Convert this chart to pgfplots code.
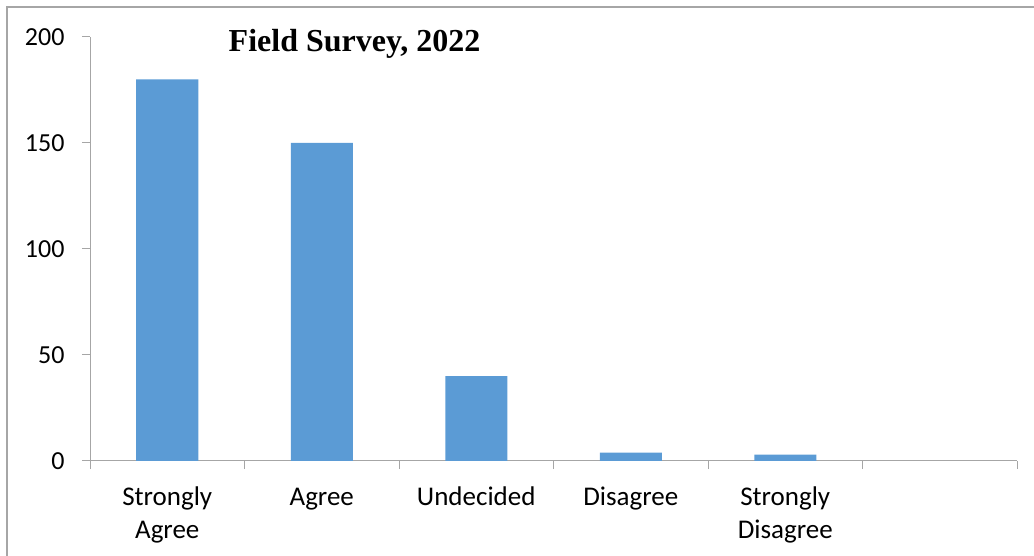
\documentclass[border=0pt]{standalone}
\usepackage{pgfplots}
\pgfplotsset{compat=1.18}
\usepackage{fontspec}
\setmainfont{Carlito}
\newfontfamily\titlefont{Liberation Serif}
\definecolor{barblue}{HTML}{5B9BD5}
\definecolor{axisgray}{HTML}{A6A6A6}
\begin{document}
\begin{tikzpicture}
\useasboundingbox (0bp,0bp) rectangle (1034bp,556bp);
% frame of the chart area
\draw[axisgray, line width=1.6bp] (7bp,-20bp) -- (7bp,549bp) -- (1060bp,549bp);
\begin{axis}[
  at={(90bp,95bp)}, anchor=south west,
  scale only axis, width=927bp, height=424bp,
  xmin=0, xmax=6, ymin=0, ymax=200,
  axis x line*=bottom, axis y line*=left,
  axis line style={axisgray, line width=1bp, -},
  xtick={0,1,2,3,4,5,6},
  xticklabels={\strut Strongly\\Agree, \strut Agree, \strut Undecided, \strut Disagree, \strut Strongly\\Disagree, {}, {}},
  xticklabel style={xshift=77.25bp, align=center, font=\fontsize{27bp}{33bp}\selectfont, yshift=-10bp},
  ytick={0,50,100,150,200},
  yticklabel style={font=\fontsize{26bp}{32bp}\selectfont, xshift=-14bp},
  /pgf/number format/assume math mode=true,
  tick align=outside, major tick length=8bp,
  tick style={axisgray, line width=1bp},
  clip=false,
]
\addplot[ybar, bar width=62bp, fill=barblue, draw=none]
  coordinates {(0.5,180) (1.5,150) (2.5,40) (3.5,4) (4.5,3)};
\end{axis}
\node[anchor=base, font=\titlefont\bfseries\fontsize{32bp}{36bp}\selectfont] at (354.5bp,504bp) {Field Survey, 2022};
\end{tikzpicture}
\end{document}
